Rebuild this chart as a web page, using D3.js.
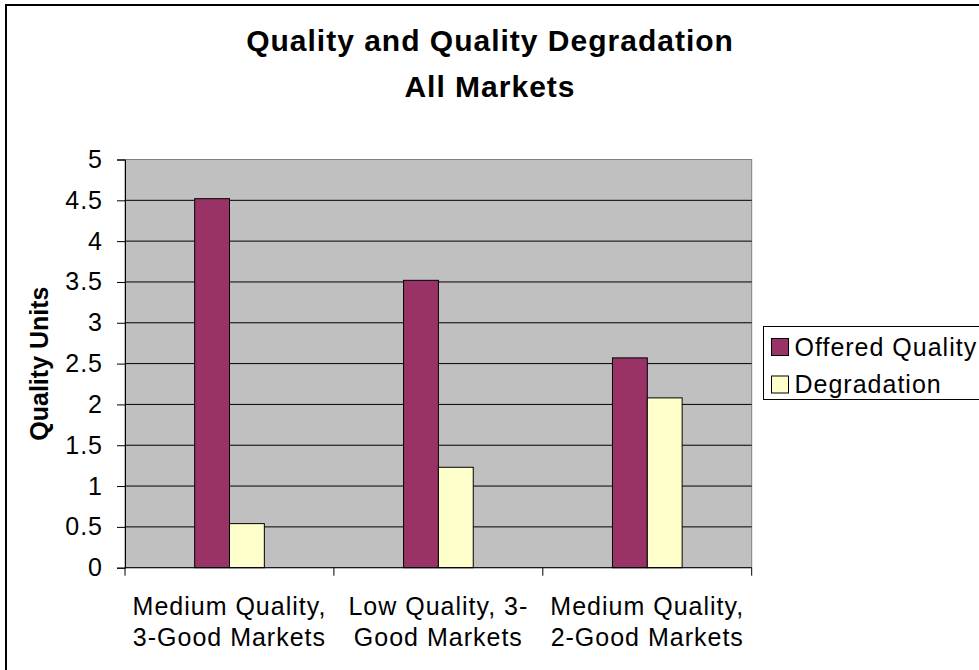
<!DOCTYPE html>
<html>
<head>
<meta charset="utf-8">
<script src="https://cdn.jsdelivr.net/npm/d3@7"></script>
<style>
  html, body { margin: 0; padding: 0; background: #fff; }
  svg { display: block; font-family: "Liberation Sans", Arial, sans-serif; }
</style>
</head>
<body>
<div id="canvas"></div>
<script>
// chart data
const categories = ["Medium Quality, 3-Good Markets", "Low Quality, 3-Good Markets", "Medium Quality, 2-Good Markets"];
const categoryLines = [["Medium Quality,", "3-Good Markets"], ["Low Quality, 3-", "Good Markets"], ["Medium Quality,", "2-Good Markets"]];
const seriesNames = ["Offered Quality", "Degradation"];
const offeredQuality = [4.52, 3.52, 2.57];
const degradation = [0.54, 1.23, 2.08];
const yTicks = [0, 0.5, 1, 1.5, 2, 2.5, 3, 3.5, 4, 4.5, 5];
const titleLines = ["Quality and Quality Degradation", "All Markets"];
const yTitle = "Quality Units";

(function() {
    const width = 979, height = 670;
    const colors = ["#993366", "#FFFFCC"];
    const plot = { left: 125, right: 751.7, top: 159.5, bottom: 567.7 };

    const svg = d3.select('#canvas').append('svg')
        .attr('width', width).attr('height', height);

    // outer chart frame (runs off right/bottom edge)
    svg.append('rect')
        .attr('x', 6).attr('y', 5)
        .attr('width', 1000).attr('height', 700)
        .attr('fill', '#fff').attr('stroke', '#000').attr('stroke-width', 2);

    const x0 = d3.scaleBand().domain(categories).range([plot.left, plot.right]).padding(0);
    const bw = x0.bandwidth();
    const x1 = d3.scaleBand().domain(seriesNames).range([bw * 0.3335, bw * 0.667]).padding(0);
    const y = d3.scaleLinear().domain([0, 5]).range([plot.bottom, plot.top]);

    // plot background
    svg.append('rect')
        .attr('x', plot.left).attr('y', plot.top)
        .attr('width', plot.right - plot.left).attr('height', plot.bottom - plot.top)
        .attr('fill', '#c0c0c0').attr('stroke', '#808080').attr('stroke-width', 1);

    // gridlines
    svg.append('g').selectAll('line')
        .data(yTicks.filter(v => v > 0 && v < 5))
        .join('line')
        .attr('x1', plot.left).attr('x2', plot.right)
        .attr('y1', d => y(d)).attr('y2', d => y(d))
        .attr('stroke', '#000').attr('stroke-width', 1);

    // bars
    const rows = categories.map((c, i) => ({ cat: c, vals: [offeredQuality[i], degradation[i]] }));
    svg.append('g').selectAll('g')
        .data(rows)
        .join('g')
        .attr('transform', d => `translate(${x0(d.cat)},0)`)
        .selectAll('rect')
        .data(d => d.vals.map((v, j) => ({ s: seriesNames[j], v, j })))
        .join('rect')
        .attr('x', d => x1(d.s))
        .attr('width', x1.bandwidth())
        .attr('y', d => y(d.v))
        .attr('height', d => y(0) - y(d.v))
        .attr('fill', d => colors[d.j])
        .attr('stroke', '#000').attr('stroke-width', 1);

    // y axis
    const yAxis = svg.append('g')
        .attr('transform', `translate(${plot.left},0)`)
        .call(d3.axisLeft(y).tickValues(yTicks).tickSize(8).tickPadding(14).tickFormat(d3.format('')));
    yAxis.select('.domain').attr('stroke', '#000');
    yAxis.selectAll('.tick line').attr('stroke', '#000');
    yAxis.selectAll('.tick text')
        .attr('fill', '#000').style('font-size', '25px').style('letter-spacing', '1px');

    // x axis line + category boundary ticks
    svg.append('line')
        .attr('x1', plot.left).attr('x2', plot.right)
        .attr('y1', y(0)).attr('y2', y(0))
        .attr('stroke', '#000');
    const bounds = categories.map(c => x0(c)).concat([x0.range()[1]]);
    svg.append('g').selectAll('line')
        .data(bounds)
        .join('line')
        .attr('x1', d => d).attr('x2', d => d)
        .attr('y1', y(0)).attr('y2', y(0) + 8)
        .attr('stroke', '#000');

    // category labels
    const lab = svg.append('g').selectAll('text')
        .data(categories)
        .join('text')
        .attr('text-anchor', 'middle')
        .style('font-size', '25px').style('letter-spacing', '1px')
        .attr('fill', '#000');
    lab.selectAll('tspan')
        .data((d, i) => categoryLines[i].map(t => ({ t, c: d })))
        .join('tspan')
        .attr('x', d => x0(d.c) + bw / 2)
        .attr('y', (d, k) => y(0) + 47 + k * 31.7)
        .text(d => d.t);

    // title
    svg.append('g').selectAll('text')
        .data(titleLines)
        .join('text')
        .attr('x', 490)
        .attr('y', (d, i) => 51 + i * 45.5)
        .attr('text-anchor', 'middle')
        .style('font-size', '30px').style('font-weight', 'bold').style('letter-spacing', '1px')
        .text(d => d);

    // y axis title
    svg.append('text')
        .attr('transform', `translate(48,${(plot.top + plot.bottom) / 2}) rotate(-90)`)
        .attr('text-anchor', 'middle')
        .style('font-size', '25px').style('font-weight', 'bold')
        .text(yTitle);

    // legend
    const leg = svg.append('g').attr('transform', 'translate(763.5,326.5)');
    leg.append('rect')
        .attr('width', 260).attr('height', 73)
        .attr('fill', '#fff').attr('stroke', '#000').attr('stroke-width', 1);
    const item = leg.selectAll('g.item')
        .data(seriesNames)
        .join('g')
        .attr('class', 'item')
        .attr('transform', (d, i) => `translate(8,${12 + i * 37.5})`);
    item.append('rect')
        .attr('width', 17).attr('height', 17)
        .attr('fill', (d, i) => colors[i])
        .attr('stroke', '#000');
    item.append('text')
        .attr('x', 23).attr('y', 17)
        .style('font-size', '25px').style('letter-spacing', '1px')
        .text(d => d);
})();
</script>
</body>
</html>
